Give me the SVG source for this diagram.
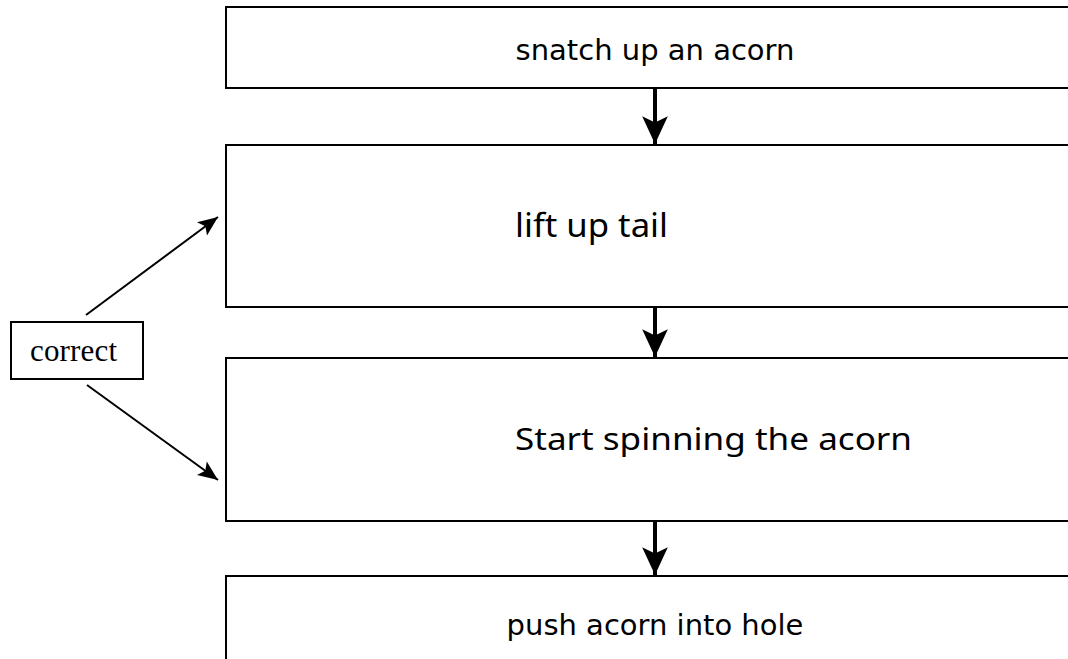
<svg xmlns="http://www.w3.org/2000/svg" width="1068" height="659" viewBox="0 0 1068 659">
<style>
.box{fill:#fff;stroke:#000;stroke-width:2}
.t1{font-family:"DejaVu Sans",sans-serif;font-size:29px;fill:#000}
.t2{font-family:"Noto Sans",sans-serif;fill:#000}
.t3{font-family:"Liberation Serif",serif;font-size:31px;fill:#000}
.thick{stroke:#000;stroke-width:4;fill:none}
.thin{stroke:#000;stroke-width:2;fill:none}
</style>
<defs>
<marker id="bigHead" markerUnits="userSpaceOnUse" markerWidth="30" markerHeight="30" viewBox="-27 -13 28 26" refX="0" refY="0" orient="auto">
<path d="M0,0 L-26,-12 L-20,0 L-26,12 Z" fill="#000"/>
</marker>
<marker id="smallHead" markerUnits="userSpaceOnUse" markerWidth="22" markerHeight="22" viewBox="-20 -9 21 18" refX="0" refY="0" orient="auto">
<path d="M0,0 L-19,-8 L-15,0 L-19,8 Z" fill="#000"/>
</marker>
</defs>
<rect width="1068" height="659" fill="#fff"/>
<g id="node-snatch">
<rect class="box" x="226" y="7" width="900" height="81"/>
<text class="t1" x="655" y="60" text-anchor="middle">snatch up an acorn</text>
</g>
<g id="node-lift">
<rect class="box" x="226" y="145" width="900" height="162"/>
<text class="t2" x="515" y="237" font-size="33" textLength="153" lengthAdjust="spacingAndGlyphs">lift up tail</text>
</g>
<g id="node-spin">
<rect class="box" x="226" y="358" width="900" height="163"/>
<text class="t2" x="515" y="450" font-size="30" textLength="397" lengthAdjust="spacingAndGlyphs">Start spinning the acorn</text>
</g>
<g id="node-push">
<rect class="box" x="226" y="576" width="900" height="150"/>
<text class="t1" x="655" y="635" text-anchor="middle">push acorn into hole</text>
</g>
<g id="node-correct">
<rect class="box" x="11" y="322" width="132" height="57"/>
<text class="t3" x="30" y="361" textLength="87" lengthAdjust="spacing">correct</text>
</g>
<g id="connectors">
<line class="thick" x1="655" y1="88" x2="655" y2="144" marker-end="url(#bigHead)"/>
<line class="thick" x1="655" y1="307" x2="655" y2="357" marker-end="url(#bigHead)"/>
<line class="thick" x1="655" y1="521" x2="655" y2="575" marker-end="url(#bigHead)"/>
<line class="thin" x1="86" y1="315" x2="218" y2="217" marker-end="url(#smallHead)"/>
<line class="thin" x1="87" y1="385" x2="218" y2="480" marker-end="url(#smallHead)"/>
</g>
</svg>
